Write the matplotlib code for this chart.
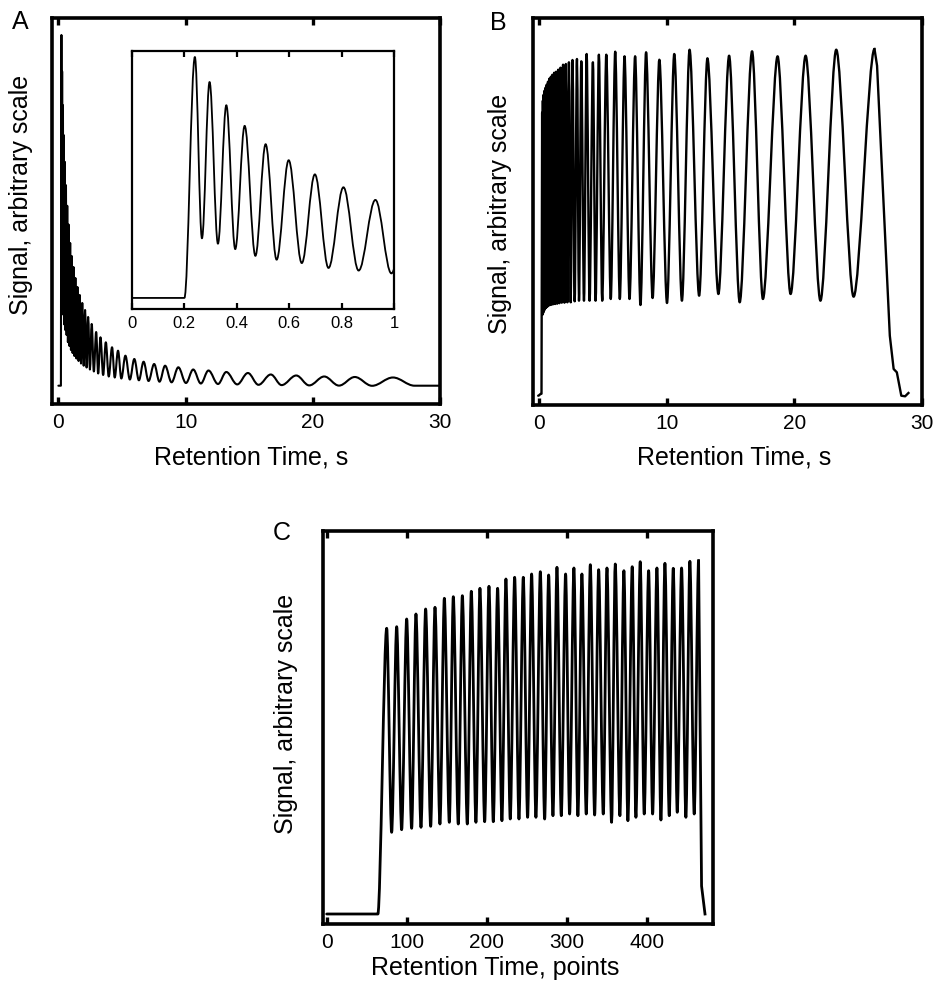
import matplotlib
matplotlib.use("Agg")
import matplotlib.pyplot as plt
from matplotlib.path import Path
from matplotlib.patches import PathPatch

plt.rcParams['font.family'] = ['Liberation Sans', 'DejaVu Sans']

# ---------------- data ----------------
# shared oscillation extrema times (s) for panels A and B
peak_t = [0.240, 0.296, 0.360, 0.430, 0.510, 0.598, 0.698, 0.807, 0.929,
          1.05, 1.19, 1.34, 1.50, 1.68, 1.88, 2.10, 2.34, 2.62, 2.97,
          3.31, 3.73, 4.22, 4.69, 5.27, 5.97, 6.70, 7.53, 8.39, 9.43,
          10.6, 11.8, 13.2, 14.9, 16.7, 18.7, 20.9, 23.3, 26.3]
trough_t = [0.267, 0.328, 0.394, 0.471, 0.552, 0.648, 0.750, 0.865,
            0.99, 1.12, 1.26, 1.42, 1.59, 1.78, 1.99, 2.22, 2.48, 2.79,
            3.13, 3.52, 3.96, 4.43, 4.95, 5.62, 6.33, 7.09, 7.95, 8.9,
            10.03, 11.2, 12.55, 14.06, 15.73, 17.55, 19.72, 22.06, 24.66]

# Panel A (signal, arbitrary units)
a_peak_v = [369.0, 332.6, 298.8, 268.8, 242.1, 218.8, 198.2, 179.4, 161.0,
            148, 137, 126, 117, 109, 101, 94, 87, 80, 72,
            66.7, 61.7, 56.7, 53.3, 48.3, 45, 42.3, 40, 38.3, 36.7,
            34.5, 33.5, 32, 31, 29.5, 28.5, 27.5, 27, 26.5]
a_trough_v = [105.0, 97.2, 89.3, 79.5, 73.9, 69.0, 61.9, 58.1,
              54, 51, 48, 45.5, 43, 40.5, 38.3, 36.5, 34.5, 32.5,
              30.5, 29, 27.5, 26.5, 25.5, 24.5, 23.7, 23, 22.3, 21.7,
              21, 20.5, 20, 19.6, 19.2, 18.9, 18.6, 18.4, 18.2]
a_start_t = [0.0, 0.2]
a_start_v = [18.3, 18.3]
a_end_t = [28.0, 30.0]
a_end_v = [18.3, 18.3]

# Panel B
b_peak_v = [292, 304, 310, 314, 317, 320, 323, 326, 328,
            330, 332, 333, 335, 337, 340, 340.7, 342.4, 344.7, 345.7,
            343.4, 350.7, 342.4, 350, 350, 353, 348.4, 348.4, 352.4, 345,
            350.7, 355, 346.4, 349, 353.4, 348.4, 349, 355, 355.7]
b_trough_v = [90, 92, 94, 96, 97, 98, 99, 99.7,
              100, 100.5, 100.7, 101, 101.5, 102, 102, 102.4, 102.4, 103.4,
              104, 104, 104, 104, 104, 105.7, 105.7, 105.7, 99.7, 106.7,
              101.7, 104, 109, 110.7, 102.4, 105.7, 110.7, 104, 108]
b_start_t = [-0.07, 0.14, 0.19]
b_start_v = [9, 10.7, 11]
b_end_t = [26.3, 26.5, 27.5, 27.8, 28.05, 28.4, 28.7, 28.96]
b_end_v = [355.7, 339, 69, 35.7, 32.4, 9, 8.4, 11.7]

# Panel C (points)
c_peak_p = [75.0, 87.5, 100, 111.6, 123.7, 135.4, 147.1, 158.3, 169.6, 180.8,
            191.6, 202.9, 213.7, 224.1, 235, 245.8, 256.2, 267.1, 277.5, 287.9,
            298.7, 309.1, 319.1, 329.6, 340, 350.4, 360.8, 371.6, 382, 392,
            402.5, 412.9, 422.9, 433.3, 443.7, 454.1, 465]
c_peak_v = [295.7, 297.3, 305, 310, 315, 316.7, 325.7, 327.3, 328.3, 332.7,
            335.7, 337.7, 335.7, 345, 346.7, 346.7, 350, 352.3, 349, 356.7,
            350, 356, 350, 359.3, 354.3, 356, 360, 353.3, 357.3, 362.3,
            353.3, 356, 360.7, 355.7, 356, 362.7, 363.3]
c_trough_p = [81.2, 93.7, 106.2, 117.9, 130, 141.6, 153.3, 164.5, 175.8, 186.6,
              197.5, 208.3, 219.1, 229.5, 240.4, 251.2, 261.6, 272.5, 282.9, 293.3,
              303.7, 314.1, 324.5, 335, 345.8, 356.2, 366.6, 376.6, 386.6, 397,
              407.5, 417.9, 428.3, 438.3, 449.1, 459.5]
c_trough_v = [91.7, 94.3, 95.7, 96.7, 97.7, 100, 101.7, 100, 100, 101.7,
              102.3, 102.3, 103.3, 105, 105, 106.7, 106.7, 105, 108.3, 108.3,
              110, 108.3, 110, 109, 110, 101.7, 108.3, 103.3, 106.7, 110,
              110, 104, 108.3, 111.7, 106.7, 110]
c_start_p = [0, 64]
c_start_v = [10, 10]
c_end_p = [465, 468.7, 473]
c_end_v = [363.3, 38, 10]

a_ticks = [0, 10, 20, 30]
inset_ticks = [0, 0.2, 0.4, 0.6, 0.8, 1]
inset_ticklabels = ['0', '0.2', '0.4', '0.6', '0.8', '1']
c_ticks = [0, 100, 200, 300, 400]


# ---------------- helpers ----------------
def interleave(pt, pv, tt, tv):
    t, v = [], []
    for i in range(len(pt)):
        t.append(pt[i]); v.append(pv[i])
        if i < len(tt):
            t.append(tt[i]); v.append(tv[i])
    return t, v


def smooth(ax, t, v, k, lw):
    verts = [(t[0], v[0])]
    codes = [Path.MOVETO]
    for i in range(1, len(t)):
        d = t[i] - t[i - 1]
        verts += [(t[i - 1] + k * d, v[i - 1]), (t[i] - k * d, v[i]), (t[i], v[i])]
        codes += [Path.CURVE4] * 3
    ax.add_patch(PathPatch(Path(verts, codes), fill=False, lw=lw,
                           edgecolor='black', joinstyle='round', capstyle='round'))


def style(ax, spine_w=2.6, tick_w=2.4, tick_len=5, fs=15, pad=6):
    for s in ax.spines.values():
        s.set_linewidth(spine_w)
    ax.tick_params(axis='x', direction='in', top=True, bottom=True,
                   width=tick_w, length=tick_len, labelsize=fs, pad=pad)
    ax.set_yticks([])


W, H = 933, 987
fig = plt.figure(figsize=(W / 100, H / 100), dpi=100)


def px_axes(l, t, r, b):
    return fig.add_axes([l / W, 1 - b / H, (r - l) / W, (b - t) / H])


# ---------------- Panel A ----------------
axA = px_axes(52, 19, 440, 405)
at, av = interleave(peak_t, a_peak_v, trough_t, a_trough_v)
at = a_start_t + at + a_end_t
av = a_start_v + av + a_end_v
smooth(axA, at, av, 0.36, 1.5)
axA.set_xlim(-0.5, 30)
axA.set_ylim(0, 386)
axA.set_xticks(a_ticks)
style(axA)
axA.set_xlabel('Retention Time, s', fontsize=18)
axA.xaxis.set_label_coords(0.513, -0.104)
axA.set_ylabel('Signal, arbitrary scale', fontsize=18)
axA.yaxis.set_label_coords(-0.049, 0.544)

axI = px_axes(132, 52, 394, 310)
smooth(axI, at, av, 0.36, 1.3)
axI.set_xlim(0, 1)
axI.set_ylim(2.2, 377.7)
axI.set_xticks(inset_ticks)
axI.set_xticklabels(inset_ticklabels)
style(axI, spine_w=1.6, tick_w=1.6, tick_len=4, fs=12, pad=4)

# ---------------- Panel B ----------------
axB = px_axes(532.7, 19, 921.7, 405.7)
bt, bv = interleave(peak_t, b_peak_v, trough_t, b_trough_v)
bt = b_start_t + bt
bv = b_start_v + bv
smooth(axB, bt, bv, 0.3, 1.7)
axB.plot(b_end_t, b_end_v, color='black', lw=1.7, solid_joinstyle='round')
axB.set_xlim(-0.5, 30)
axB.set_ylim(0, 386.7)
axB.set_xticks(a_ticks)
style(axB)
axB.set_xlabel('Retention Time, s', fontsize=18)
axB.xaxis.set_label_coords(0.5175, -0.104)
axB.set_ylabel('Signal, arbitrary scale', fontsize=18)
axB.yaxis.set_label_coords(-0.053, 0.496)

# ---------------- Panel C ----------------
axC = px_axes(322.7, 531.7, 713, 925)
ct, cv = interleave(c_peak_p, c_peak_v, c_trough_p, c_trough_v)
ct = c_start_p + ct
cv = c_start_v + cv
smooth(axC, ct, cv, 0.3, 2.0)
axC.plot(c_end_p, c_end_v, color='black', lw=2.0, solid_joinstyle='round')
axC.set_xlim(-5, 483)
axC.set_ylim(0, 393.3)
axC.set_xticks(c_ticks)
style(axC)
axC.set_xlabel('Retention Time, points', fontsize=18)
axC.xaxis.set_label_coords(0.442, -0.080)
axC.set_ylabel('Signal, arbitrary scale', fontsize=18)
axC.yaxis.set_label_coords(-0.063, 0.536)

# panel letters
fig.text(20 / W, 1 - 22 / H, 'A', fontsize=18, ha='center', va='center')
fig.text(498 / W, 1 - 23 / H, 'B', fontsize=18, ha='center', va='center')
fig.text(282 / W, 1 - 533 / H, 'C', fontsize=18, ha='center', va='center')

fig.savefig('out.png', dpi=100)
